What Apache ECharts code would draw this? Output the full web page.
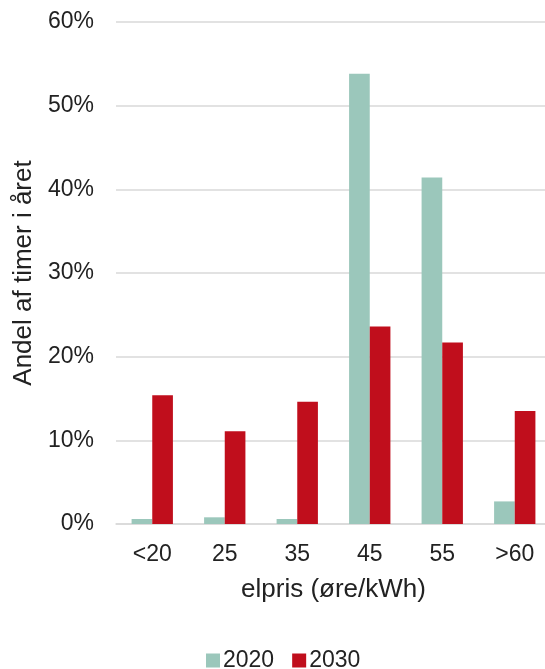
<!DOCTYPE html>
<html><head><meta charset="utf-8">
<script src="https://cdn.jsdelivr.net/npm/echarts@6/dist/echarts.min.js"></script>
<style>html,body{margin:0;padding:0;background:#fff}#c{width:545px;height:669px}</style>
</head><body><div id="c"></div>
<script>
const categories = ['<20', '25', '35', '45', '55', '>60'];
const values2020 = [0.6, 0.8, 0.6, 53.8, 41.4, 2.7];
const values2030 = [15.4, 11.1, 14.6, 23.6, 21.7, 13.5];
const seriesNames = ['2020', '2030'];
const font = 'Liberation Sans, Arial, sans-serif';
const chart = echarts.init(document.getElementById('c'));
chart.setOption({
  animation: false,
  grid: {left: 116, width: 435, top: 22, bottom: 145, outerBoundsMode: 'none', containLabel: false},
  legend: {
    top: 644, left: 201, itemWidth: 14, itemHeight: 14, itemGap: 18,
    icon: 'rect',
    textStyle: {fontFamily: font, fontSize: 23, color: '#222', padding: [0, 0, 0, -2]},
    data: seriesNames
  },
  xAxis: {
    type: 'category', data: categories,
    axisTick: {show: false},
    axisLine: {lineStyle: {color: '#d9d9d9', width: 1.5}},
    axisLabel: {fontFamily: font, fontSize: 23, color: '#222', margin: 19},
    name: 'elpris (øre/kWh)', nameLocation: 'middle', nameGap: 66,
    nameTextStyle: {fontFamily: font, fontSize: 26, color: '#222', verticalAlign: 'middle'}
  },
  yAxis: {
    type: 'value', min: 0, max: 60, interval: 10,
    axisLabel: {fontFamily: font, fontSize: 23, color: '#222', formatter: '{value}%', margin: 22},
    splitLine: {lineStyle: {color: '#d9d9d9', width: 1.5}},
    name: 'Andel af timer i året', nameLocation: 'middle', nameGap: 90,
    nameTextStyle: {fontFamily: font, fontSize: 26, color: '#222', verticalAlign: 'middle'}
  },
  series: [
    {name: seriesNames[0], type: 'bar', data: values2020, itemStyle: {color: '#9BC7BB'}, barGap: '0%', barCategoryGap: '43%'},
    {name: seriesNames[1], type: 'bar', data: values2030, itemStyle: {color: '#C00E1C'}, barGap: '0%', barCategoryGap: '43%'}
  ]
});
</script></body></html>
